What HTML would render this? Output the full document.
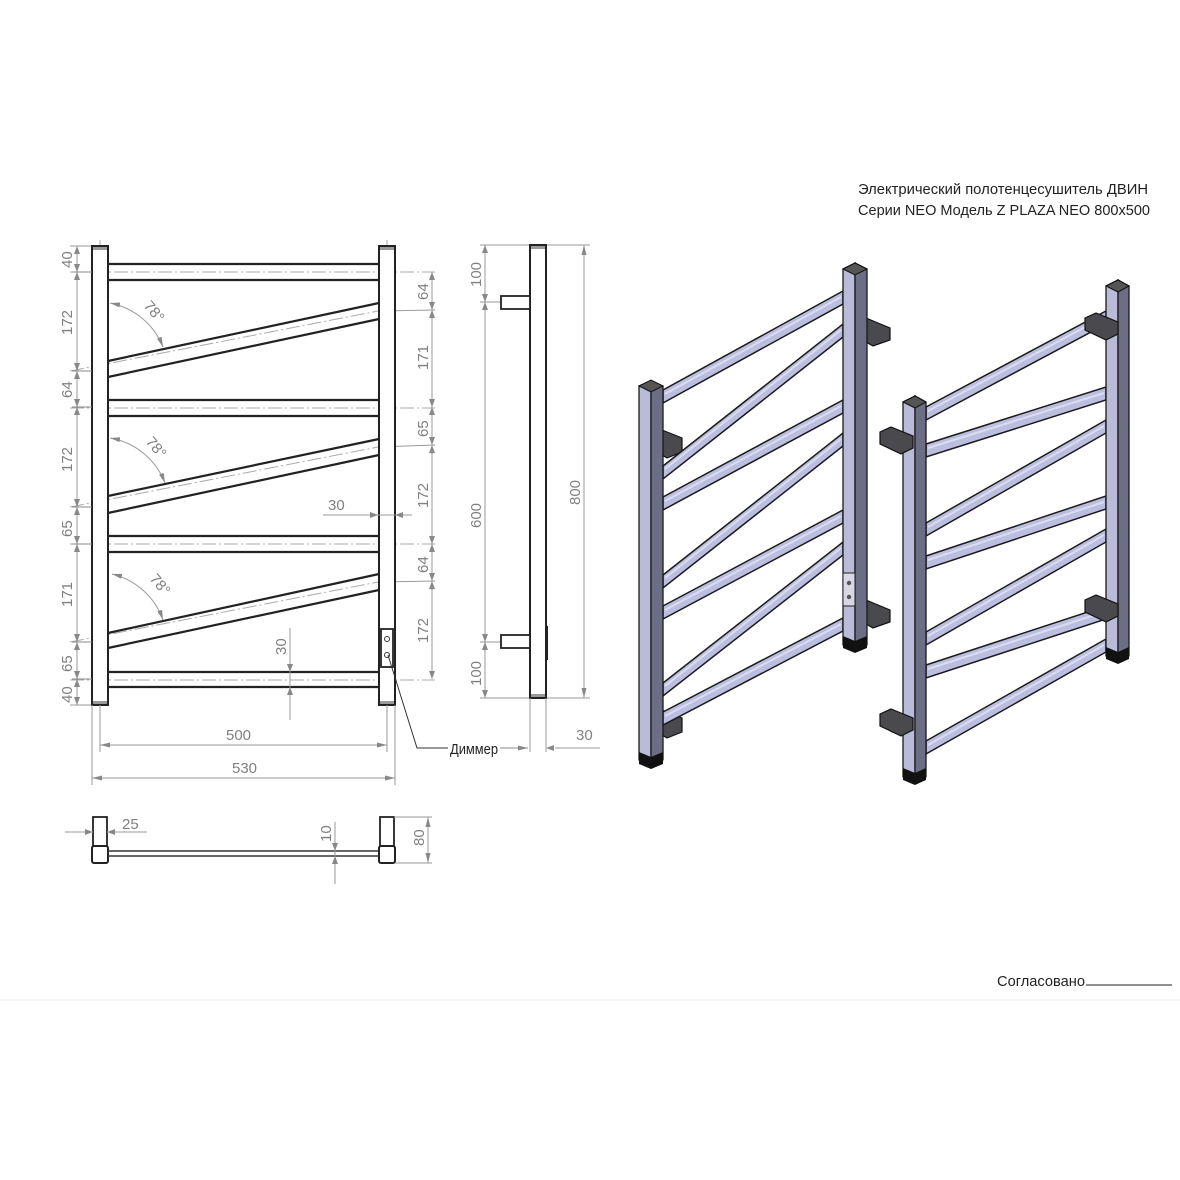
<!DOCTYPE html>
<html><head><meta charset="utf-8"><style>
html,body{margin:0;padding:0;background:#fff;width:1180px;height:1180px;overflow:hidden}
svg{display:block}
.d{font-family:"Liberation Sans Narrow","Liberation Sans","DejaVu Sans",sans-serif;font-size:15px;fill:#808080}
.t{font-family:"Liberation Sans Narrow","Liberation Sans","DejaVu Sans",sans-serif;fill:#222}
.g{stroke:#999;stroke-width:1;fill:none}
.c{stroke:#aaa;stroke-width:1;fill:none;stroke-dasharray:14 3 2 3}
.k{stroke:#222;stroke-width:2.2;fill:none}
.bar{fill:#bcbedf;stroke:#1a1a1a;stroke-width:1.5}
.lt{fill:#b9bbd9;stroke:#1a1a1a;stroke-width:1.3}
.dk{fill:#6c6e85;stroke:#1a1a1a;stroke-width:1.3}
.br{fill:#4a4a4e;stroke:#111;stroke-width:1.2}
.hl{stroke:#dcdcf0;stroke-width:2}
</style></head><body>
<svg width="1180" height="1180" viewBox="0 0 1180 1180" xmlns="http://www.w3.org/2000/svg">
<defs>
<marker id="a" viewBox="0 0 10 6" refX="10" refY="3" markerWidth="10" markerHeight="6" orient="auto-start-reverse" markerUnits="userSpaceOnUse"><path d="M0,0.5 L10,3 L0,5.5 Z" fill="#888"/></marker>
</defs>

<text class="t" x="858" y="194" font-size="15" textLength="290" lengthAdjust="spacingAndGlyphs">Электрический полотенцесушитель ДВИН</text>
<text class="t" x="858" y="215" font-size="15" textLength="292" lengthAdjust="spacingAndGlyphs">Серии NEO Модель Z PLAZA NEO 800х500</text>
<text class="t" x="997" y="986" font-size="15" textLength="88" lengthAdjust="spacingAndGlyphs">Согласовано</text>
<line x1="1086" y1="985" x2="1172" y2="985" stroke="#222" stroke-width="1"/>
<line x1="0" y1="1000" x2="1180" y2="1000" stroke="#eee" stroke-width="1"/>

<line class="c" x1="100" y1="240" x2="100" y2="720"/>
<line class="c" x1="387" y1="240" x2="387" y2="720"/>
<line class="c" x1="70" y1="272" x2="435" y2="272"/>
<line class="c" x1="70" y1="408" x2="435" y2="408"/>
<line class="c" x1="70" y1="544" x2="435" y2="544"/>
<line class="c" x1="70" y1="680" x2="435" y2="680"/>
<line class="c" x1="70" y1="371" x2="378" y2="311"/>
<line class="c" x1="70" y1="507" x2="378" y2="447"/>
<line class="c" x1="70" y1="642" x2="378" y2="582"/>
<line class="g" x1="378" y1="311" x2="435" y2="310"/>
<line class="g" x1="378" y1="447" x2="435" y2="445"/>
<line class="g" x1="378" y1="582" x2="435" y2="581"/>
<line class="g" x1="70" y1="246" x2="92" y2="246"/>
<line class="g" x1="70" y1="705" x2="92" y2="705"/>
<rect x="92" y="246" width="16" height="459" fill="#fff" stroke="#222" stroke-width="2"/>
<rect x="379" y="246" width="16" height="459" fill="#fff" stroke="#222" stroke-width="2"/>
<rect x="93" y="247" width="14" height="3" fill="#999"/><rect x="93" y="701" width="14" height="3" fill="#999"/>
<rect x="380" y="247" width="14" height="3" fill="#999"/><rect x="380" y="701" width="14" height="3" fill="#999"/>
<line class="k" x1="108" y1="264" x2="379" y2="264"/><line class="k" x1="108" y1="280" x2="379" y2="280"/>
<line class="k" x1="108" y1="400" x2="379" y2="400"/><line class="k" x1="108" y1="416" x2="379" y2="416"/>
<line class="k" x1="108" y1="536" x2="379" y2="536"/><line class="k" x1="108" y1="552" x2="379" y2="552"/>
<line class="k" x1="108" y1="672" x2="379" y2="672"/><line class="k" x1="108" y1="687" x2="379" y2="687"/>
<line class="k" x1="108" y1="361" x2="379" y2="303"/><line class="k" x1="108" y1="377" x2="379" y2="319"/>
<line class="k" x1="108" y1="496" x2="379" y2="439"/><line class="k" x1="108" y1="513" x2="379" y2="455"/>
<line class="k" x1="108" y1="633" x2="379" y2="574"/><line class="k" x1="108" y1="648" x2="379" y2="590"/>
<rect x="381" y="629" width="12" height="38" fill="#fff" stroke="#222" stroke-width="1.8"/>
<circle cx="387" cy="639" r="2.5" fill="none" stroke="#333"/>
<circle cx="387" cy="655" r="2.5" fill="none" stroke="#333"/>
<polyline points="388,655 417,748 448,748" fill="none" stroke="#333" stroke-width="1"/>
<text class="t" x="450" y="754" font-size="15" textLength="48" lengthAdjust="spacingAndGlyphs">Диммер</text>
<line x1="500" y1="748" x2="528" y2="748" stroke="#888" marker-end="url(#a)"/>
<path class="g" d="M110,303 A72,72 0 0 1 163,347" marker-start="url(#a)" marker-end="url(#a)"/>
<path class="g" d="M110,438 A72,72 0 0 1 165,483" marker-start="url(#a)" marker-end="url(#a)"/>
<path class="g" d="M112,574 A72,72 0 0 1 163,620" marker-start="url(#a)" marker-end="url(#a)"/>
<text class="d" transform="translate(143,306) rotate(50)">78°</text>
<text class="d" transform="translate(145,442) rotate(50)">78°</text>
<text class="d" transform="translate(149,579) rotate(50)">78°</text>
<line class="g" x1="77" y1="246" x2="77" y2="705"/>
<g stroke="#888" stroke-width="1">
<line x1="72" y1="272" x2="92" y2="272"/><line x1="72" y1="371" x2="92" y2="371"/><line x1="72" y1="407" x2="92" y2="407"/><line x1="72" y1="507" x2="92" y2="507"/><line x1="72" y1="544" x2="92" y2="544"/><line x1="72" y1="642" x2="92" y2="642"/><line x1="72" y1="679" x2="92" y2="679"/>
</g>
<g fill="#888">
<path d="M74,254 L77,246 L80,254Z M74,264 L77,272 L80,264Z M74,280 L77,272 L80,280Z M74,363 L77,371 L80,363Z M74,379 L77,371 L80,379Z M74,399 L77,407 L80,399Z M74,415 L77,407 L80,415Z M74,499 L77,507 L80,499Z M74,515 L77,507 L80,515Z M74,536 L77,544 L80,536Z M74,552 L77,544 L80,552Z M74,634 L77,642 L80,634Z M74,650 L77,642 L80,650Z M74,671 L77,679 L80,671Z M74,687 L77,679 L80,687Z M74,697 L77,705 L80,697Z"/>
</g>
<g class="d">
<text transform="translate(72,268) rotate(-90)">40</text>
<text transform="translate(72,335) rotate(-90)">172</text>
<text transform="translate(72,398) rotate(-90)">64</text>
<text transform="translate(72,472) rotate(-90)">172</text>
<text transform="translate(72,537) rotate(-90)">65</text>
<text transform="translate(72,607) rotate(-90)">171</text>
<text transform="translate(72,672) rotate(-90)">65</text>
<text transform="translate(72,703) rotate(-90)">40</text>
</g>
<line class="g" x1="432" y1="272" x2="432" y2="679"/>
<g fill="#888">
<path d="M429,280 L432,272 L435,280Z M429,302 L432,310 L435,302Z M429,318 L432,310 L435,318Z M429,399 L432,407 L435,399Z M429,415 L432,407 L435,415Z M429,437 L432,445 L435,437Z M429,453 L432,445 L435,453Z M429,536 L432,544 L435,536Z M429,552 L432,544 L435,552Z M429,573 L432,581 L435,573Z M429,589 L432,581 L435,589Z M429,671 L432,679 L435,671Z"/>
</g>
<g class="d">
<text transform="translate(428,300) rotate(-90)">64</text>
<text transform="translate(428,370) rotate(-90)">171</text>
<text transform="translate(428,437) rotate(-90)">65</text>
<text transform="translate(428,508) rotate(-90)">172</text>
<text transform="translate(428,573) rotate(-90)">64</text>
<text transform="translate(428,643) rotate(-90)">172</text>
</g>
<line class="g" x1="323" y1="515" x2="412" y2="515"/>
<path d="M370,512 L378,515 L370,518Z M403,512 L395,515 L403,518Z" fill="#888"/>
<text class="d" x="328" y="510">30</text>
<line class="g" x1="290" y1="628" x2="290" y2="720"/>
<path d="M287,664 L290,672 L293,664Z M287,695 L290,687 L293,695Z" fill="#888"/>
<text class="d" transform="translate(286,655) rotate(-90)">30</text>
<line class="g" x1="100" y1="705" x2="100" y2="752"/>
<line class="g" x1="387" y1="705" x2="387" y2="752"/>
<line class="g" x1="92" y1="705" x2="92" y2="785"/>
<line class="g" x1="395" y1="705" x2="395" y2="785"/>
<line class="g" x1="100" y1="745" x2="387" y2="745" marker-start="url(#a)" marker-end="url(#a)"/>
<line class="g" x1="92" y1="778" x2="395" y2="778" marker-start="url(#a)" marker-end="url(#a)"/>
<text class="d" x="226" y="740">500</text>
<text class="d" x="232" y="773">530</text>

<line class="g" x1="480" y1="245" x2="590" y2="245"/>
<line class="g" x1="480" y1="698" x2="590" y2="698"/>
<line class="g" x1="480" y1="302" x2="537" y2="302"/>
<line class="g" x1="480" y1="642" x2="537" y2="642"/>
<rect x="530" y="245" width="16" height="453" fill="#fff" stroke="#222" stroke-width="2"/>
<rect x="531" y="246" width="14" height="3" fill="#999"/><rect x="531" y="694" width="14" height="3" fill="#999"/>
<rect x="501" y="296" width="29" height="13" fill="#fff" stroke="#222" stroke-width="1.8"/>
<rect x="501" y="635" width="29" height="13" fill="#fff" stroke="#222" stroke-width="1.8"/>
<line x1="547" y1="626" x2="547" y2="660" stroke="#222" stroke-width="2"/>
<line class="g" x1="485" y1="245" x2="485" y2="698"/>
<path d="M482,253 L485,245 L488,253Z M482,294 L485,302 L488,294Z M482,310 L485,302 L488,310Z M482,634 L485,642 L488,634Z M482,650 L485,642 L488,650Z M482,690 L485,698 L488,690Z" fill="#888"/>
<text class="d" transform="translate(481,287) rotate(-90)">100</text>
<text class="d" transform="translate(481,528) rotate(-90)">600</text>
<text class="d" transform="translate(481,686) rotate(-90)">100</text>
<line class="g" x1="584" y1="245" x2="584" y2="698" marker-start="url(#a)" marker-end="url(#a)"/>
<text class="d" transform="translate(580,505) rotate(-90)">800</text>
<line class="g" x1="530" y1="698" x2="530" y2="752"/>
<line class="g" x1="546" y1="698" x2="546" y2="752"/>
<line class="g" x1="555" y1="748" x2="600" y2="748"/>
<path d="M554,745 L546,748 L554,751Z" fill="#888"/>
<text class="d" x="576" y="740">30</text>

<rect x="93" y="817" width="14" height="29" fill="#fff" stroke="#222" stroke-width="1.8"/>
<rect x="92" y="846" width="16" height="17" rx="2" fill="#fff" stroke="#222" stroke-width="2"/>
<rect x="380" y="817" width="14" height="29" fill="#fff" stroke="#222" stroke-width="1.8"/>
<rect x="379" y="846" width="16" height="17" rx="2" fill="#fff" stroke="#222" stroke-width="2"/>
<line x1="108" y1="851" x2="379" y2="851" stroke="#333" stroke-width="1.5"/>
<line x1="108" y1="856" x2="379" y2="856" stroke="#333" stroke-width="1.5"/>
<line class="g" x1="65" y1="832" x2="93" y2="832"/>
<line class="g" x1="107" y1="832" x2="147" y2="832"/>
<path d="M85,829 L93,832 L85,835Z M115,829 L107,832 L115,835Z" fill="#888"/>
<text class="d" x="122" y="829">25</text>
<line class="g" x1="335" y1="822" x2="335" y2="884"/>
<path d="M332,843 L335,851 L338,843Z M332,864 L335,856 L338,864Z" fill="#888"/>
<text class="d" transform="translate(331,842) rotate(-90)">10</text>
<line class="g" x1="394" y1="817" x2="432" y2="817"/>
<line class="g" x1="395" y1="863" x2="432" y2="863"/>
<line class="g" x1="428" y1="817" x2="428" y2="863" marker-start="url(#a)" marker-end="url(#a)"/>
<text class="d" transform="translate(424,846) rotate(-90)">80</text>

<polygon class="br" points="866,318 890,328 890,340 873,346 866,342"/>
<polygon class="br" points="662,430 682,438 682,452 667,458 662,455"/>
<polygon class="br" points="866,600 890,610 890,622 873,628 866,624"/>
<polygon class="br" points="662,710 682,718 682,732 667,738 662,735"/>
<polygon class="bar" points="663,390 843,291 843,304 663,403"/>
<polygon class="bar" points="663,466 843,324 843,337 663,479"/>
<polygon class="bar" points="663,497 843,400 843,413 663,510"/>
<polygon class="bar" points="663,575 843,433 843,446 663,588"/>
<polygon class="bar" points="663,606 843,510 843,523 663,619"/>
<polygon class="bar" points="663,683 843,542 843,555 663,696"/>
<polygon class="bar" points="663,712 843,618 843,631 663,725"/>
<g class="hl">
<line x1="665" y1="394" x2="841" y2="297"/><line x1="665" y1="469" x2="841" y2="330"/><line x1="665" y1="501" x2="841" y2="406"/><line x1="665" y1="578" x2="841" y2="439"/><line x1="665" y1="610" x2="841" y2="516"/><line x1="665" y1="686" x2="841" y2="548"/><line x1="665" y1="716" x2="841" y2="624"/>
</g>
<polygon class="lt" points="639,386 651,381 651,765 639,760"/>
<polygon class="dk" points="651,381 663,386 663,760 651,765"/>
<polygon points="639,386 651,380 663,386 651,392" fill="#555" stroke="#111"/>
<polygon points="639,752 651,757 663,752 663,764 651,769 639,764" fill="#111"/>
<polygon class="lt" points="843,269 855,263 855,650 843,645"/>
<polygon class="dk" points="855,263 867,269 867,645 855,650"/>
<polygon points="843,269 855,263 867,269 855,275" fill="#555" stroke="#111"/>
<polygon points="843,636 855,641 867,636 867,648 855,653 843,648" fill="#111"/>
<rect x="843" y="573" width="12" height="33" fill="#d8d8e4" stroke="#222" stroke-width="1"/>
<circle cx="849" cy="583" r="2.2" fill="#555"/><circle cx="849" cy="597" r="2.2" fill="#555"/>

<polygon class="bar" points="926,407 1106,311 1106,324 926,420"/>
<polygon class="bar" points="926,444 1106,387 1106,400 926,457"/>
<polygon class="bar" points="926,523 1106,420 1106,433 926,536"/>
<polygon class="bar" points="926,556 1106,496 1106,509 926,569"/>
<polygon class="bar" points="926,632 1106,529 1106,542 926,645"/>
<polygon class="bar" points="926,665 1106,606 1106,619 926,678"/>
<polygon class="bar" points="926,741 1106,639 1106,652 926,754"/>
<g class="hl">
<line x1="928" y1="411" x2="1104" y2="317"/><line x1="928" y1="448" x2="1104" y2="393"/><line x1="928" y1="527" x2="1104" y2="426"/><line x1="928" y1="560" x2="1104" y2="502"/><line x1="928" y1="636" x2="1104" y2="535"/><line x1="928" y1="669" x2="1104" y2="612"/><line x1="928" y1="745" x2="1104" y2="645"/>
</g>
<polygon class="lt" points="1106,286 1118,280 1118,661 1106,656"/>
<polygon class="dk" points="1118,280 1129,286 1129,656 1118,661"/>
<polygon points="1106,286 1118,280 1129,286 1118,292" fill="#555" stroke="#111"/>
<polygon points="1106,647 1118,652 1129,647 1129,659 1118,664 1106,659" fill="#111"/>
<polygon class="lt" points="903,402 915,396 915,782 903,777"/>
<polygon class="dk" points="915,396 926,402 926,777 915,782"/>
<polygon points="903,402 915,396 926,402 915,408" fill="#555" stroke="#111"/>
<polygon points="903,768 915,773 926,768 926,780 915,785 903,780" fill="#111"/>
<polygon class="br" points="1085,318 1096,313 1118,322 1118,334 1106,340 1085,330"/>
<polygon class="br" points="1085,600 1096,595 1118,604 1118,616 1106,622 1085,612"/>
<polygon class="br" points="880,432 891,427 913,436 913,448 901,454 880,444"/>
<polygon class="br" points="880,714 891,709 913,718 913,730 901,736 880,726"/>
</svg>
</body></html>
